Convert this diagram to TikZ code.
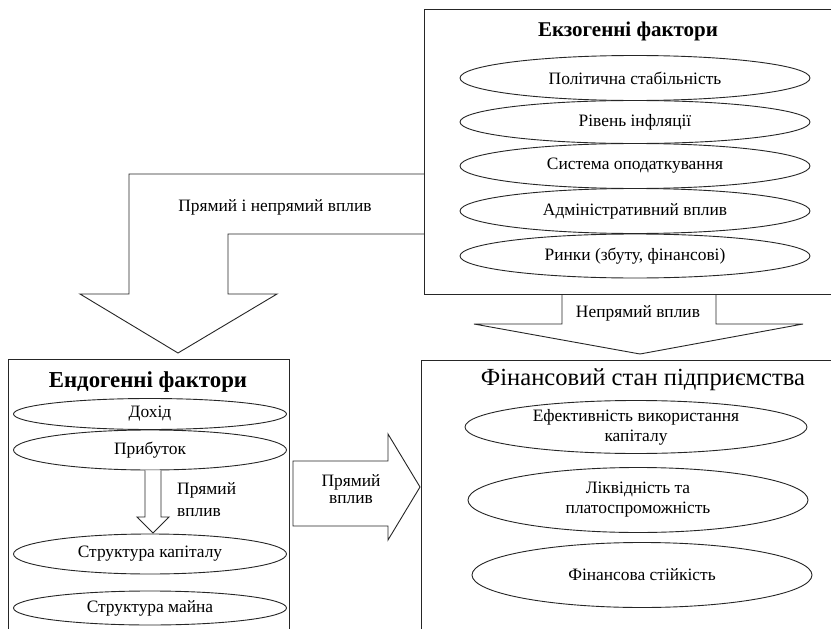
\documentclass[tikz,border=0pt]{standalone}
\usepackage{fontspec}
\setmainfont{Liberation Serif}
\usetikzlibrary{shapes.geometric}
\begin{document}
\begin{tikzpicture}[x=1pt,y=-1pt,
  ln/.style={draw=black!85,line width=0.9pt},
  oval/.style={ln,ellipse,inner sep=0pt,align=center,font=\fontsize{17.4}{20}\selectfont},
  lbl/.style={inner sep=0pt,align=center,font=\fontsize{17.4}{20}\selectfont},
  box/.style={ln,rectangle,inner sep=0pt,fill=white}]
\clip (0,0) rectangle (831,629);
\fill[white] (0,0) rectangle (831,629);
% big L arrow (direct & indirect)
\draw[ln,fill=white] (424,174) -- (129,174) -- (129,294) -- (80,294) -- (178,353) -- (277,294) -- (228,294) -- (228,234) -- (424,234);
% indirect arrow
\draw[ln,fill=white] (562,294) -- (562,324) -- (474,324) -- (640,354) -- (803,324) -- (716,324) -- (716,294);
% boxes
\node[box,minimum width=440pt,minimum height=285pt,anchor=north west] (exo) at (424,9) {};
\node[box,minimum width=440pt,minimum height=300pt,anchor=north west] (fin) at (421,360) {};
\node[box,minimum width=281pt,minimum height=300pt,anchor=north west] (endo) at (8,359) {};
% right arrow (direct)
\draw[ln,fill=white] (293,461) -- (388,461) -- (388,434) -- (420,487) -- (388,540) -- (388,526) -- (293,526) -- cycle;
% titles
\node[lbl,font=\fontsize{21}{25}\bfseries] (exot) at (628,31) {Екзогенні фактори};
\node[lbl,font=\fontsize{22.8}{27}\bfseries] (endot) at (148,382) {Ендогенні фактори};
\node[lbl,font=\fontsize{24.6}{29}\selectfont] (fint) at (643,380) {Фінансовий стан підприємства};
% exo ovals
\node[oval,minimum width=350pt,minimum height=45pt] (e1) at (635,78) {Політична стабільність};
\node[oval,minimum width=350pt,minimum height=43pt] (e2) at (635,122) {Рівень інфляції};
\node[oval,minimum width=350pt,minimum height=45pt] (e3) at (635,166) {Система оподаткування};
\node[oval,minimum width=350pt,minimum height=45pt] (e4) at (635,211) {Адміністративний вплив};
\node[oval,minimum width=350pt,minimum height=44pt] (e5) at (635,256) {Ринки (збуту, фінансові)};
% endo ovals
\node[oval,minimum width=273pt,minimum height=31pt] (n1) at (150,414) {Дохід};
\node[oval,minimum width=273pt,minimum height=40pt] (n2) at (150,450) {Прибуток};
\node[oval,minimum width=273pt,minimum height=40pt] (n3) at (150,554) {Структура капіталу};
\node[oval,minimum width=273pt,minimum height=34pt] (n4) at (150,608) {Структура майна};
% small down arrow
\draw[ln,fill=white] (n2.south -| 145,0) -- (145,517) -- (137,517) -- (153,533) -- (169,517) -- (161,517) -- (n2.south -| 161,0);
% fin ovals
\node[oval,minimum width=342pt,minimum height=53pt] (f1) at (636,427) {Ефективність використання\\капіталу};
\node[oval,minimum width=340pt,minimum height=65pt] (f2) at (638,500) {Ліквідність та\\платоспроможність};
\node[oval,minimum width=340pt,minimum height=65pt] (f3) at (642,575) {Фінансова стійкість};
% labels
\node[lbl] (l1) at (275,207) {Прямий і непрямий вплив};
\node[lbl] (l2) at (638,313) {Непрямий вплив};
\node[lbl,font=\fontsize{17.4}{17}\selectfont] (l3) at (351,489) {Прямий\\вплив};
\node[lbl,align=left,anchor=west] (l4) at (177,500) {Прямий\\[2pt]вплив};
\end{tikzpicture}
\end{document}
